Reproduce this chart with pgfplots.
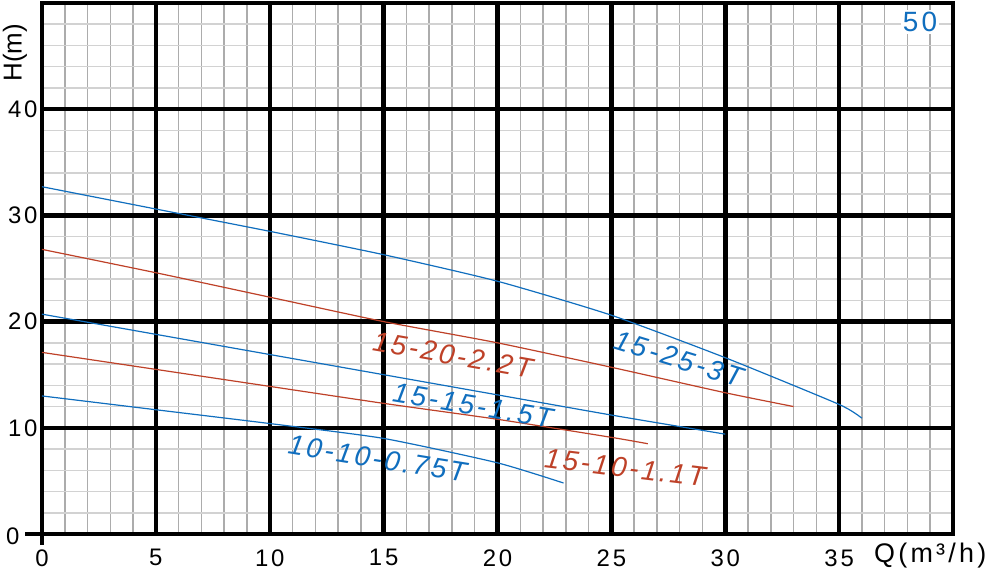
\documentclass[border=0pt]{standalone}
\usepackage{fontspec}
\setmainfont{Liberation Sans}
\newfontfamily\tickfont[LetterSpace=12]{Liberation Sans}
\newfontfamily\curvefont[LetterSpace=10]{Liberation Sans}
\usepackage{pgfplots}
\pgfplotsset{compat=1.18}
\definecolor{cblue}{RGB}{16,110,190}
\definecolor{cred}{RGB}{190,65,40}
\begin{document}
\begin{tikzpicture}
\useasboundingbox (-42bp,-38bp) rectangle (946bp,534bp);
% minor grid
\begin{axis}[
  scale only axis, width=911bp, height=531bp,
  xmin=0, xmax=40, ymin=0, ymax=50,
  xtick={1,...,39}, ytick={2,4,...,48},
  xticklabels={}, yticklabels={},
  grid=major,
  every axis x grid/.append style={gray!65, line width=1.5bp},
  every axis y grid/.append style={gray!35, line width=1.5bp},
  axis line style={draw=none},
  tick style={draw=none}, major tick length=0pt,
]
\end{axis}
% major grid, data
\begin{axis}[
  scale only axis, width=911bp, height=531bp,
  xmin=0, xmax=40, ymin=0, ymax=50,
  xtick={0,5,...,35}, ytick={0,10,...,40},
  xticklabels={0,5,10,15,20,25,30,35},
  yticklabels={,10,20,30,40},
  grid=major,
  major grid style={black, line width=4.5bp},
  axis line style={black, line width=4.5bp},
  major tick length=0pt,
  tick style={draw=none},
  xticklabel style={font=\tickfont\fontsize{24}{24}\selectfont, yshift=-12bp},
  yticklabel style={font=\tickfont\fontsize{24}{24}\selectfont, xshift=-1bp},
  clip=false,
  every axis plot/.append style={line width=1.2bp, smooth, tension=0.35},
]
% 15-25-3T
\addplot[cblue] coordinates {(0,32.7)(5,30.6)(10,28.5)(15,26.3)(20,23.8)(25,20.6)(30,16.6)(35,12.2)(36,10.9)};
% 15-20-2.2T
\addplot[cred] coordinates {(0,26.8)(5,24.6)(10,22.3)(15,20.0)(20,18.0)(25,15.7)(30,13.3)(33,12.0)};
% 15-15-1.5T
\addplot[cblue] coordinates {(0,20.7)(5,18.8)(10,16.9)(15,15.0)(20,13.1)(25,11.2)(30,9.4)};
% 15-10-1.1T
\addplot[cred] coordinates {(0,17.1)(5,15.5)(10,13.9)(15,12.3)(20,10.8)(25,9.1)(26.6,8.5)};
% 10-10-0.75T
\addplot[cblue] coordinates {(0,13.0)(5,11.7)(10,10.4)(15,9.0)(20,6.7)(22.9,4.8)};

\draw[line width=4.5bp] (axis cs:0,0) -- ++(-17bp,0);
\draw[line width=4.5bp] (axis cs:0,0) -- ++(0,-11bp);
\node[anchor=east, font=\tickfont\fontsize{24}{24}\selectfont] at (axis cs:0,0) [xshift=-19bp, yshift=-2bp] {0};

\begin{scope}[font=\curvefont\fontsize{28}{28}\selectfont\itshape, inner sep=0pt]
\node[cred, rotate=-10] at (axis cs:18.04,16.85) {15-20-2.2T};
\node[cblue, rotate=-17] at (axis cs:27.96,16.5) {15-25-3T};
\node[cblue, rotate=-9.6] at (axis cs:18.92,12.1) {15-15-1.5T};
\node[cred, rotate=-7.1] at (axis cs:25.6,6.26) {15-10-1.1T};
\node[cblue, rotate=-9.2] at (axis cs:14.73,7.1) {10-10-0.75T};
\end{scope}
\node[cblue, fill=white, inner sep=2bp, font=\tickfont\fontsize{28}{28}\selectfont] at (axis cs:38.55,48.2) {50};
\node[font=\tickfont\fontsize{27}{27}\selectfont] at (axis cs:39.0,-2.0) {Q(m³/h)};
\node[rotate=90, font=\fontsize{26}{26}\selectfont] at (axis cs:-1.19,45.3) {H(m)};
\end{axis}
\end{tikzpicture}
\end{document}
